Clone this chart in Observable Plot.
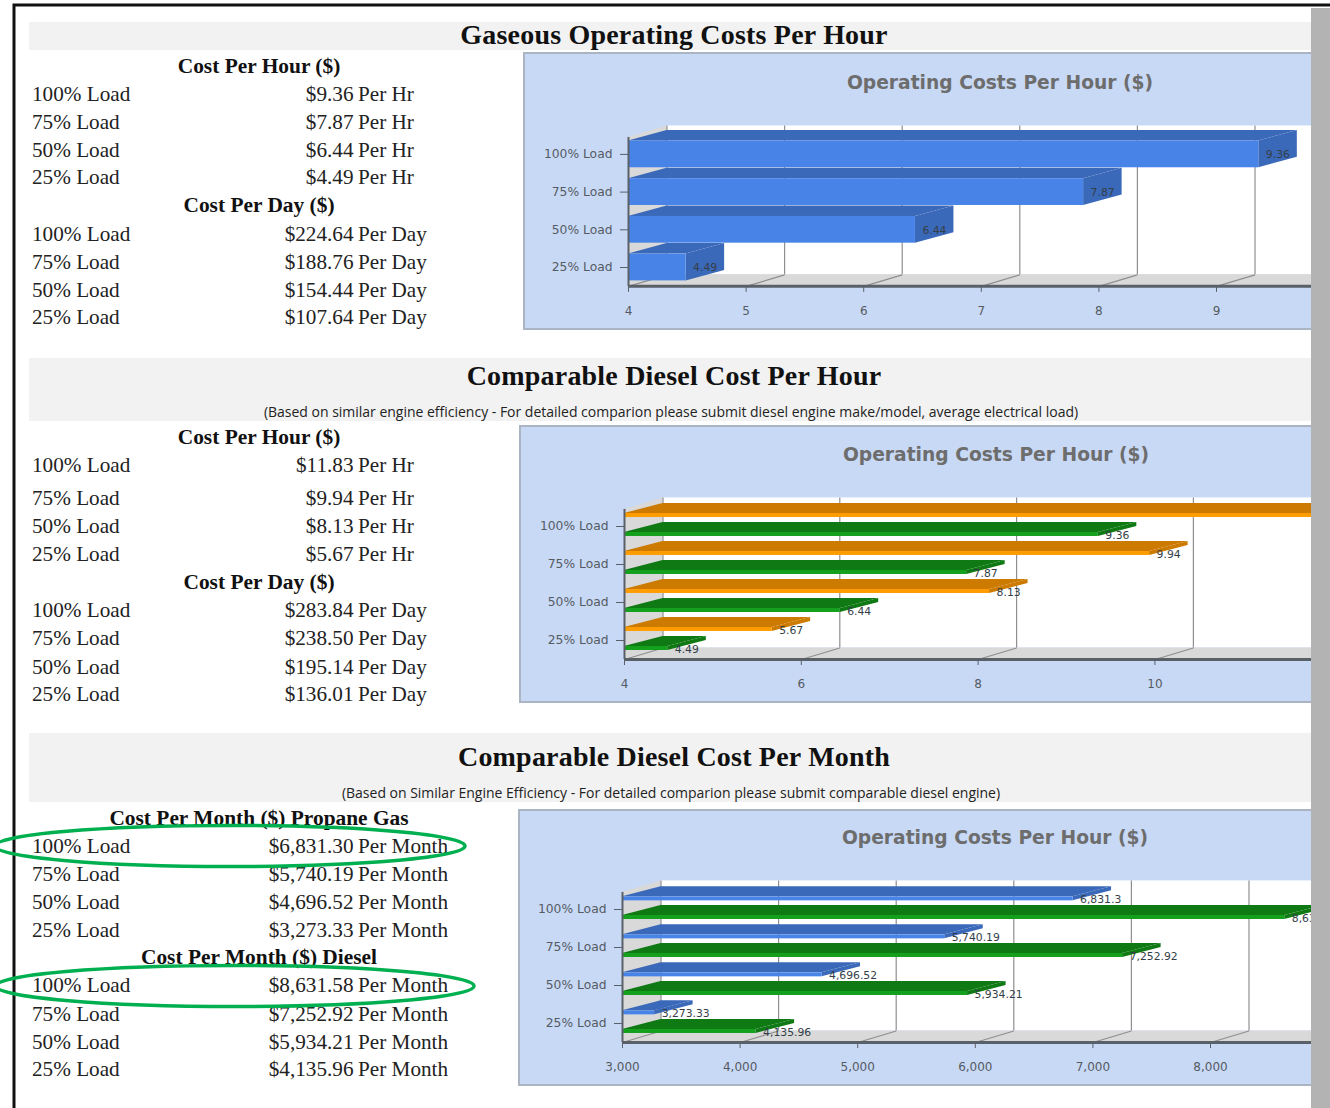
<!DOCTYPE html>
<html>
<head>
<meta charset="utf-8">
<script src="https://cdn.jsdelivr.net/npm/d3@7"></script>
<script src="https://cdn.jsdelivr.net/npm/@observablehq/plot@0.6"></script>
<style>
  html, body { margin: 0; padding: 0; background: #fff; }
  #page { position: relative; width: 1330px; height: 1108px; overflow: hidden; background: #fff; }
  .abs { position: absolute; white-space: nowrap; line-height: 1; }
  .band { position: absolute; left: 29px; width: 1282px; background: #f2f2f2; }
  .sec { font: bold 28px "Liberation Serif", serif; letter-spacing: 0.2px; color: #111; transform: translate(-50%, -50%); }
  .sub { font: 14px "Open Sans", sans-serif; letter-spacing: -0.01px; color: #222; transform: translate(-50%, -50%); }
  .head { font: bold 21.4px "Liberation Serif", serif; color: #111; transform: translate(-50%, -50%); }
  .row { font: 21.2px "Liberation Serif", serif; color: #222; transform: translateY(-50%); }
  .val { transform: translate(-100%, -50%); }
  .panel { position: absolute; background: #c8d9f6; box-sizing: border-box; border: 2px solid #aab4c2; overflow: hidden; }
  .panel svg { position: absolute; max-width: none; }
  .ctitle { font: bold 18.7px "DejaVu Sans", sans-serif; color: #6d6d6d; transform: translate(-50%, -50%); }
</style>
</head>
<body>
<div id="page"></div>
<script>
// Load levels and the operating costs reported for each of them
const loads = ["100% Load", "75% Load", "50% Load", "25% Load"];
const gasHour = [9.36, 7.87, 6.44, 4.49];
const gasDay = [224.64, 188.76, 154.44, 107.64];
const dieselHour = [11.83, 9.94, 8.13, 5.67];
const dieselDay = [283.84, 238.50, 195.14, 136.01];
const propaneMonth = [6831.30, 5740.19, 4696.52, 3273.33];
const dieselMonth = [8631.58, 7252.92, 5934.21, 4135.96];

// Axis tick values of the three charts
const ticksGas = [4, 5, 6, 7, 8, 9];
const ticksDiesel = [4, 6, 8, 10];
const ticksMonth = [3000, 4000, 5000, 6000, 7000, 8000];

const chartTitle = "Operating Costs Per Hour ($)";

const page = document.getElementById("page");
const money = d3.format("$,.2f");
const visibleRight = 1311;

function addText(cls, text, x, y) {
  const el = document.createElement("div");
  el.className = "abs " + cls;
  el.textContent = text;
  el.style.left = x + "px";
  el.style.top = y + "px";
  page.appendChild(el);
  return el;
}
function addBand(top, height) {
  const el = document.createElement("div");
  el.className = "band";
  el.style.top = top + "px";
  el.style.height = height + "px";
  page.appendChild(el);
}
// One block of the cost table: a bold heading and a row per load level
function addTable(heading, headY, rowYs, values, unit) {
  addText("head", heading, 259, headY);
  values.forEach((v, i) => {
    addText("row", loads[i], 32, rowYs[i]);
    addText("row val", money(v), 353.5, rowYs[i]);
    addText("row", unit, 358, rowYs[i]);
  });
}

// Section banners
addBand(22, 28);
addBand(358, 63);
addBand(733, 69);
addText("sec", "Gaseous Operating Costs Per Hour", 674, 35);
addText("sec", "Comparable Diesel Cost Per Hour", 674, 376);
addText("sub", "(Based on similar engine efficiency - For detailed comparion please submit diesel engine make/model, average electrical load)", 671, 411);
addText("sec", "Comparable Diesel Cost Per Month", 674, 757);
addText("sub", "(Based on Similar Engine Efficiency - For detailed comparion please submit comparable diesel engine)", 671, 792);

// Cost tables
addTable("Cost Per Hour ($)", 66, [94, 122, 150, 177], gasHour, "Per Hr");
addTable("Cost Per Day ($)", 205, [234, 262, 290, 317], gasDay, "Per Day");
addTable("Cost Per Hour ($)", 437, [465, 498, 526, 554], dieselHour, "Per Hr");
addTable("Cost Per Day ($)", 582, [610, 638, 667, 694], dieselDay, "Per Day");
addTable("Cost Per Month ($) Propane Gas", 818, [846, 874, 902, 930], propaneMonth, "Per Month");
addTable("Cost Per Month ($) Diesel", 957, [985, 1014, 1042, 1069], dieselMonth, "Per Month");

// Horizontal pseudo-3D bar chart: the depth of every face is expressed in
// scale units, so all faces go through the chart's x and y scales.
function barChart(cfg) {
  const {left, top, bottom, x0, pxPerUnit, tickY25, step, ticks, series, depthPx, tickFmt, labelShift} = cfg;
  const width = 1330 - left;
  const height = bottom - top;
  const axisPx = tickY25 + 0.5 * step;
  const marginLeft = cfg.x0Px - left;
  const marginBottom = bottom - axisPx;
  const dx = 38.5 / pxPerUnit;
  const dy = depthPx / step;
  const floorDy = 11.5 / step;
  const axisV = -0.5;
  const wallV = 3.45;
  const x1 = x0 + (width - marginLeft) / pxPerUnit;
  const slot = (i) => 3 - i;

  const front = [], faces = [], labels = [];
  // Back-most bars come first so nearer bars paint over them
  loads.forEach((_, i) => {
    series.forEach((s) => {
      const v = s.values[i];
      const yb = slot(i) + s.offset - s.thick / 2;
      const yt = yb + s.thick;
      const low = (X) => X <= v ? yt : yt + dy * (X - v) / dx;
      const up = (X) => yt + dy * Math.min(1, (X - x0) / dx);
      const xs = [x0, x0 + dx, v, v + dx].sort((a, b) => a - b);
      const topId = `t${i}${s.name}`;
      xs.forEach((X) => faces.push({id: topId, x: X, y1: low(X), y2: up(X), fill: s.dark}));
      const sideId = `s${i}${s.name}`;
      faces.push({id: sideId, x: v, y1: yb, y2: yt, fill: s.dark});
      faces.push({id: sideId, x: v + dx, y1: yb + dy, y2: yt + dy, fill: s.dark});
      front.push({x1: x0, x2: v, y1: yb, y2: yt, fill: s.light});
      // A value label only exists while its bar end lies inside the visible plot
      const labelPx = cfg.x0Px + (v - x0) * pxPerUnit + 7;
      if (labelPx < visibleRight) {
        labels.push({x: v, y: labelShift === "side" ? slot(i) : yb, text: d3.format(",")(v)});
      }
    });
  });

  const wall = [
    {x: x0, y1: axisV, y2: wallV},
    {x: x0 + dx, y1: axisV + floorDy, y2: wallV + floorDy}
  ];
  const floor = [
    {x: x0, y1: axisV, y2: axisV},
    {x: x0 + dx, y1: axisV, y2: axisV + floorDy},
    {x: x1, y1: axisV, y2: axisV + floorDy}
  ];
  const gridTicks = ticks.map((t) => ({t, b: t + dx}));

  // Faces are drawn bar by bar so that the nearer bars occlude the farther ones
  const barMarks = [];
  const perBar = d3.groups(faces, (d) => d.id.slice(1));
  perBar.forEach(([key, rows], n) => {
    barMarks.push(Plot.areaY(rows, {x: "x", y1: "y1", y2: "y2", z: "id", fill: "fill", curve: "linear"}));
    barMarks.push(Plot.rect([front[n]], {x1: "x1", x2: "x2", y1: "y1", y2: "y2", fill: "fill"}));
  });

  const plot = Plot.plot({
    width, height,
    marginLeft, marginBottom, marginTop: 0, marginRight: 0,
    style: {background: "transparent", fontFamily: "'DejaVu Sans', sans-serif", fontSize: "12px", overflow: "visible"},
    x: {domain: [x0, x1], range: [marginLeft, width]},
    y: {domain: [axisV, (tickY25 - top) / step], range: [axisPx - top, 0]},
    color: {type: "identity"},
    marks: [
      // Back plane, side wall and floor of the 3D box
      Plot.rect([0], {x1: x0 + dx, x2: x1, y1: axisV + floorDy, y2: wallV + floorDy, fill: "#fff"}),
      Plot.areaY(wall, {x: "x", y1: "y1", y2: "y2", fill: "#d9d9d9"}),
      Plot.areaY(floor, {x: "x", y1: "y1", y2: "y2", fill: "#d9d9d9"}),
      Plot.ruleX(gridTicks, {x: "b", y1: axisV + floorDy, y2: wallV + floorDy, stroke: "#8f8f8f", strokeWidth: 1.2}),
      Plot.link(gridTicks, {x1: "t", x2: "b", y1: axisV, y2: axisV + floorDy, stroke: "#8f8f8f", strokeWidth: 1.2}),
      ...barMarks,
      Plot.text(labels, {x: "x", y: "y", text: "text", dx: 7, dy: labelShift === "side" ? 0.5 : -1, textAnchor: "start", fill: "#343e48", fontSize: 10.8}),
      // Axes and their lines
      Plot.ruleY([axisV], {stroke: "#5a6068", strokeWidth: 3}),
      Plot.ruleX([x0], {y1: axisV, y2: wallV, stroke: "#5a6068", strokeWidth: 2}),
      Plot.axisX({anchor: "bottom", ticks, tickFormat: tickFmt, tickSize: 6, tickPadding: 14, stroke: "#5a6068", color: "#555b63", label: null}),
      Plot.axisY({anchor: "left", ticks: [0, 1, 2, 3], tickFormat: (i) => loads[3 - i], tickSize: 8, tickPadding: 8, stroke: "#5a6068", color: "#555b63", fontSize: 12.3, label: null})
    ]
  });

  const panel = document.createElement("div");
  panel.className = "panel";
  panel.style.left = left + "px";
  panel.style.top = top + "px";
  panel.style.width = width + "px";
  panel.style.height = height + "px";
  plot.style.left = "-2px";
  plot.style.top = "-2px";
  plot.style.maxWidth = "none";
  panel.appendChild(plot);
  page.appendChild(panel);
  addText("ctitle", chartTitle, cfg.titleX, cfg.titleY);
}

const blueLight = "#4884e8", blueDark = "#3b69b9";
const orangeLight = "#ff9d00", orangeDark = "#cc7a00";
const greenLight = "#14a01c", greenDark = "#0f7a14";

barChart({
  left: 523, top: 52, bottom: 330, x0: 4, x0Px: 628, pxPerUnit: 117.6,
  tickY25: 267, step: 37.7, ticks: ticksGas, depthPx: 10.5,
  labelShift: "side", tickFmt: d3.format("d"), titleX: 1000, titleY: 82,
  series: [{name: "gas", values: gasHour, offset: 0, thick: 0.71, light: blueLight, dark: blueDark}]
});
barChart({
  left: 519, top: 425, bottom: 703, x0: 4, x0Px: 624, pxPerUnit: 88.4,
  tickY25: 640, step: 38, ticks: ticksDiesel, depthPx: 10,
  labelShift: "below", tickFmt: d3.format("d"), titleX: 996, titleY: 454,
  series: [
    {name: "diesel", values: dieselHour, offset: 0.29, thick: 0.105, light: orangeLight, dark: orangeDark},
    {name: "gas", values: gasHour, offset: -0.21, thick: 0.105, light: greenLight, dark: greenDark}
  ]
});
barChart({
  left: 518, top: 809, bottom: 1086, x0: 3000, x0Px: 622, pxPerUnit: 0.1176,
  tickY25: 1023, step: 38, ticks: ticksMonth, depthPx: 10,
  labelShift: "below", tickFmt: d3.format(","), titleX: 995, titleY: 837,
  series: [
    {name: "propane", values: propaneMonth, offset: 0.28, thick: 0.105, light: blueLight, dark: blueDark},
    {name: "diesel", values: dieselMonth, offset: -0.21, thick: 0.105, light: greenLight, dark: greenDark}
  ]
});

// Page frame, the grey strip on the right edge and the hand-drawn highlight ovals
const overlay = d3.select(page).append("svg")
  .attr("width", 1330).attr("height", 1108)
  .style("position", "absolute").style("left", 0).style("top", 0);
overlay.append("rect").attr("x", 1311).attr("y", 8).attr("width", 19).attr("height", 1100).attr("fill", "#b3b3b3");
overlay.append("path").attr("d", "M14 1108V5H1330").attr("fill", "none").attr("stroke", "#111").attr("stroke-width", 3);
overlay.append("ellipse").attr("cx", 230).attr("cy", 846).attr("rx", 235).attr("ry", 20.5)
  .attr("fill", "none").attr("stroke", "#00b050").attr("stroke-width", 3.5);
overlay.append("ellipse").attr("cx", 235).attr("cy", 986).attr("rx", 239).attr("ry", 20.5)
  .attr("fill", "none").attr("stroke", "#00b050").attr("stroke-width", 3.5);
</script>
</body>
</html>
